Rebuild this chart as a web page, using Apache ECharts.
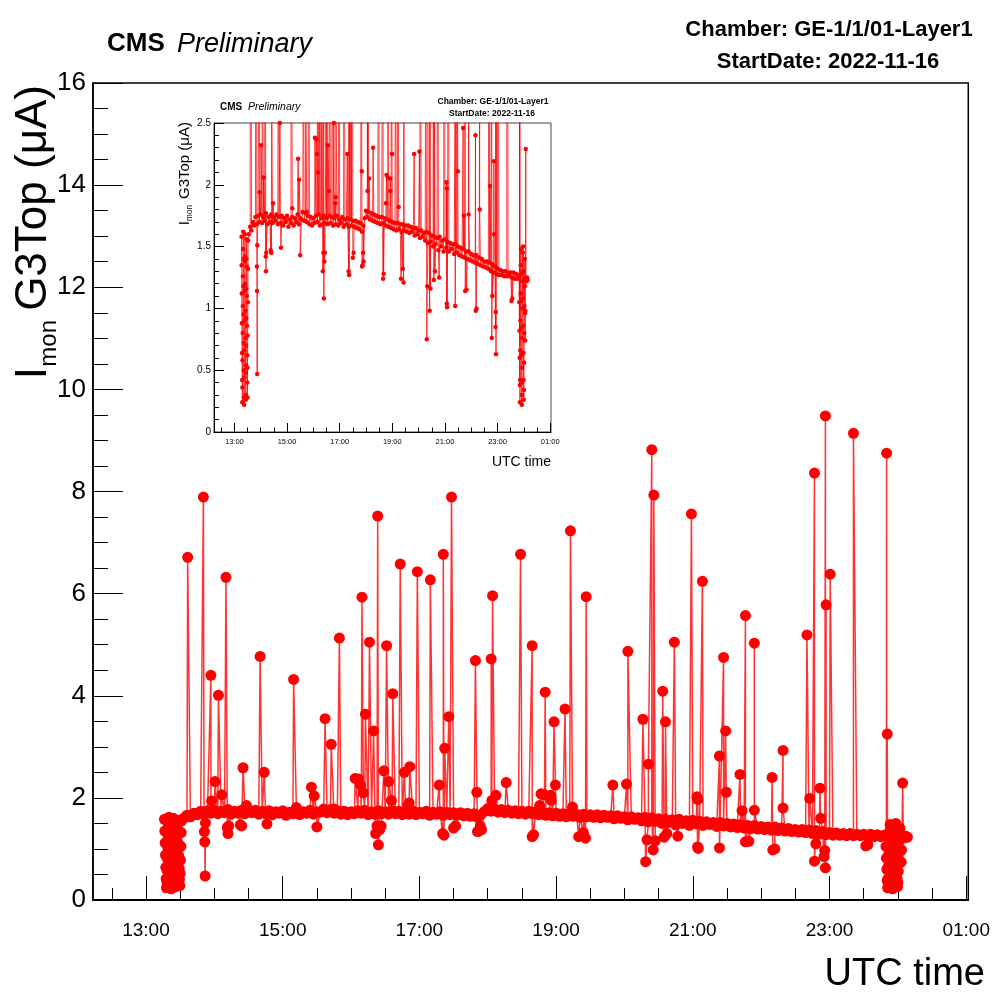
<!DOCTYPE html>
<html>
<head>
<meta charset="utf-8">
<title>Imon G3Top - GE-1/1/01-Layer1</title>
<script src="https://cdn.jsdelivr.net/npm/echarts@6/dist/echarts.min.js"></script>
<style>
  html, body { margin: 0; padding: 0; background: #fff; }
  #chart { width: 993px; height: 1006px; }
</style>
</head>
<body>
<div id="chart"></div>
<script>
// time is in hours of 2022-11-16 (25 = 01:00 of the next day)
var xMin = 12.225, xMax = 25.03;
var majorHours = [13, 15, 17, 19, 21, 23, 25];
var minorHours = [12.5, 13.5, 14, 14.5, 15.5, 16, 16.5, 17.5, 18, 18.5, 19.5, 20, 20.5,
                  21.5, 22, 22.5, 23.5, 24, 24.5];

// ramp-up at switch on, one reading every 0.005 h from 13.27 h
var rampT0 = 13.27, rampDt = 0.005;
var rampI = [1.58, 1.35, 1.12, 0.88, 0.64, 0.42, 0.24, 0.36, 0.58, 0.80,
             1.02, 1.26, 1.48, 1.62, 1.40, 1.18, 0.95, 0.72, 0.50, 0.28,
             0.22, 0.44, 0.66, 0.90, 1.14, 1.38, 1.60, 1.42, 1.20, 0.98,
             0.76, 0.54, 0.30, 0.26, 0.48, 0.70, 0.92, 1.16, 1.40, 1.56,
             1.34, 1.10, 0.86, 0.62, 0.40, 0.28, 0.52, 0.78, 1.05, 1.32, 1.55];

// stable running, one reading every 0.05 h from 13.55 h
var baseT0 = 13.55, baseDt = 0.05;
var baseI = [
  1.60, 1.66, 1.63, 1.70, 1.67, 1.74, 1.68, 1.75, 1.70, 1.76, 1.69, 1.74, 1.71, 1.77, 1.68, 1.74, 1.70, 1.76, 1.69, 1.74,
  1.71, 1.76, 1.68, 1.74, 1.69, 1.75, 1.67, 1.73, 1.70, 1.75, 1.66, 1.72, 1.69, 1.74, 1.67, 1.73, 1.70, 1.76, 1.68, 1.73,
  1.72, 1.78, 1.71, 1.77, 1.70, 1.75, 1.68, 1.74, 1.67, 1.73, 1.69, 1.75, 1.70, 1.76, 1.67, 1.73, 1.68, 1.75, 1.69, 1.73,
  1.68, 1.75, 1.69, 1.74, 1.67, 1.73, 1.68, 1.75, 1.67, 1.72, 1.69, 1.74, 1.66, 1.72, 1.68, 1.73, 1.66, 1.72, 1.67, 1.71,
  1.66, 1.71, 1.65, 1.70, 1.64, 1.69, 1.62, 1.67, 1.73, 1.79, 1.74, 1.78, 1.72, 1.77, 1.71, 1.76, 1.70, 1.75, 1.69, 1.74,
  1.68, 1.74, 1.69, 1.73, 1.67, 1.72, 1.66, 1.71, 1.65, 1.70, 1.64, 1.69, 1.63, 1.69, 1.64, 1.68, 1.62, 1.68, 1.63, 1.67,
  1.62, 1.67, 1.61, 1.66, 1.62, 1.65, 1.59, 1.65, 1.60, 1.63, 1.57, 1.63, 1.58, 1.61, 1.55, 1.62, 1.53, 1.61, 1.54, 1.59,
  1.50, 1.58, 1.52, 1.57, 1.47, 1.58, 1.50, 1.55, 1.46, 1.56, 1.49, 1.54, 1.46, 1.53, 1.48, 1.52, 1.44, 1.52, 1.45, 1.50,
  1.43, 1.49, 1.42, 1.48, 1.41, 1.46, 1.40, 1.46, 1.39, 1.44, 1.38, 1.43, 1.37, 1.43, 1.36, 1.41, 1.35, 1.40, 1.34, 1.38,
  1.33, 1.38, 1.32, 1.37, 1.30, 1.36, 1.29, 1.34, 1.28, 1.32, 1.27, 1.31, 1.27, 1.30, 1.26, 1.30, 1.26, 1.29, 1.26, 1.29,
  1.25, 1.29, 1.24, 1.28, 1.24, 1.27
];

// ramp-down near midnight, one reading every 0.006 h from 23.82 h
var dropT0 = 23.82, dropDt = 0.006;
var dropI = [1.25, 1.05, 0.82, 0.60, 0.38, 0.24, 0.42, 0.66, 0.90, 1.12,
             1.35, 1.48, 1.28, 1.06, 0.84, 0.62, 0.40, 0.22, 0.30, 0.52,
             0.76, 1.00, 1.22, 1.45, 1.30, 1.08, 0.86, 0.64, 0.42, 0.26,
             0.34, 0.56, 0.80, 1.02, 1.24, 1.40, 1.18, 0.96, 0.74, 0.98, 1.22];

var tailT = [24.08, 24.10, 24.12, 24.14];
var tailI = [1.24, 1.22, 1.25, 1.23];

// current spikes
var spikeT = [13.61, 13.84, 13.95, 14.01, 14.06, 14.17, 14.42, 14.67, 14.73, 15.16,
              15.42, 15.46, 15.62, 15.71, 15.83, 16.06, 16.11, 16.16, 16.21, 16.27,
              16.33, 16.39, 16.48, 16.52, 16.55, 16.61, 16.72, 16.78, 16.86, 16.97,
              17.16, 17.29, 17.35, 17.37, 17.43, 17.47, 17.82, 17.84, 18.05, 18.07,
              18.27, 18.48, 18.65, 18.78, 18.84, 18.97, 18.99, 19.13, 19.21, 19.44,
              19.83, 20.03, 20.05, 20.27, 20.35, 20.40, 20.43, 20.56, 20.60, 20.73,
              20.98, 21.14, 21.39, 21.45, 21.48, 21.49, 21.69, 21.77, 21.90, 22.16,
              22.32, 22.67, 22.71, 22.78, 22.86, 22.94, 22.95, 23.01, 23.35, 23.835,
              23.845, 24.07];
var spikeI = [6.71, 7.89, 4.40, 2.32, 4.01, 6.32, 2.59, 4.77, 2.50, 4.32,
              2.21, 2.04, 3.55, 3.05, 5.13, 2.38, 2.37, 5.93, 3.64, 5.05,
              3.31, 7.52, 2.53, 4.98, 2.32, 4.04, 6.58, 2.50, 2.61, 6.43,
              6.27, 2.25, 6.77, 2.97, 3.59, 7.89, 4.69, 2.11, 4.72, 5.96,
              2.30, 6.77, 4.98, 2.08, 4.07, 3.49, 2.25, 3.74, 7.23, 5.94,
              2.25, 2.27, 4.87, 3.54, 2.66, 8.82, 7.93, 4.09, 3.49, 5.05,
              7.56, 6.24, 2.82, 4.75, 3.31, 2.11, 2.46, 5.57, 5.03, 2.40,
              2.93, 5.19, 1.99, 8.36, 2.19, 9.48, 5.78, 6.38, 9.14, 8.75,
              3.25, 2.29];

// small bumps just above the running level
var bumpT = [13.96, 14.11, 14.47, 15.20, 15.75, 16.14, 16.18, 16.59, 16.83, 16.85,
             18.06, 18.12, 18.76, 18.83, 18.92, 18.93, 19.24, 21.06, 21.072, 21.72,
             21.90, 22.32, 22.87, 23.97];
var bumpI = [1.94, 2.06, 1.85, 1.81, 1.78, 2.25, 2.10, 1.95, 1.85, 1.90,
             1.95, 2.05, 1.85, 2.06, 2.05, 1.95, 1.82, 2.02, 1.97, 1.75,
             1.76, 1.80, 1.60, 1.50];

// current dips
var dipT = [13.855, 13.86, 13.865, 13.87, 14.19, 14.20, 14.21, 14.38, 14.40, 14.77,
            15.50, 16.36, 16.38, 16.40, 16.42, 16.44, 17.34, 17.36, 17.50, 17.53,
            17.85, 17.87, 17.89, 17.91, 18.65, 18.67, 19.33, 19.40, 19.43, 20.31,
            20.33, 20.42, 20.45, 20.58, 20.62, 20.78, 21.07, 21.08, 21.39, 21.77,
            21.82, 22.17, 22.20, 22.78, 22.80, 22.92, 22.93, 22.94, 23.53, 23.56];
var dipI = [1.34, 1.14, 0.47, 1.51, 1.42, 1.30, 1.45, 1.47, 1.45, 1.49,
            1.43, 1.30, 1.45, 1.08, 1.38, 1.45, 1.30, 1.27, 1.41, 1.45,
            1.34, 1.35, 1.45, 1.38, 1.24, 1.28, 1.24, 1.32, 1.21, 0.75,
            1.18, 0.98, 1.16, 1.23, 1.30, 1.25, 1.04, 1.01, 1.02, 1.14,
            1.15, 0.98, 1.00, 0.76, 1.10, 0.85, 0.97, 0.63, 1.06, 1.08];

var FONT = '"Liberation Sans", Arial, Helvetica, sans-serif';

function buildPoints() {
    var pts = [];
    var i;
    for (i = 0; i < rampI.length; i++) pts.push([rampT0 + i * rampDt, rampI[i]]);
    for (i = 0; i < baseI.length; i++) pts.push([baseT0 + i * baseDt, baseI[i]]);
    for (i = 0; i < dropI.length; i++) pts.push([dropT0 + i * dropDt, dropI[i]]);
    for (i = 0; i < tailI.length; i++) pts.push([tailT[i], tailI[i]]);
    for (i = 0; i < spikeI.length; i++) pts.push([spikeT[i], spikeI[i]]);
    for (i = 0; i < bumpI.length; i++) pts.push([bumpT[i], bumpI[i]]);
    for (i = 0; i < dipI.length; i++) pts.push([dipT[i], dipI[i]]);
    pts.sort(function (a, b) { return a[0] - b[0]; });
    return pts;
}

function hourLabel(v) {
    var h = Math.round(v) % 24;
    return (h < 10 ? '0' : '') + h + ':00';
}

// x axes: one carries the 2 h ticks and labels, the other the 30 min ticks
function timeAxes(grid, tickLen, fontSize, margin, lineW) {
    return [{
        gridIndex: grid, type: 'value', position: 'bottom', min: xMin, max: xMax,
        axisLine: { show: true, onZero: false, lineStyle: { color: '#000', width: lineW } },
        axisTick: { show: true, inside: true, length: tickLen, customValues: majorHours,
                    lineStyle: { color: '#000', width: 1 } },
        axisLabel: { show: true, customValues: majorHours, formatter: hourLabel,
                     fontFamily: FONT, fontSize: fontSize, color: '#000', margin: margin },
        splitLine: { show: false }
    }, {
        gridIndex: grid, type: 'value', position: 'bottom', min: xMin, max: xMax,
        axisLine: { show: false },
        axisTick: { show: true, inside: true, length: tickLen / 2, customValues: minorHours,
                    lineStyle: { color: '#000', width: 1 } },
        axisLabel: { show: false },
        splitLine: { show: false }
    }];
}

function currentAxis(grid, max, step, minorSplit, tickLen, fontSize, margin, lineW) {
    return {
        gridIndex: grid, type: 'value', min: 0, max: max, interval: step,
        axisLine: { show: true, onZero: false, lineStyle: { color: '#000', width: lineW } },
        axisTick: { show: true, inside: true, length: tickLen, lineStyle: { color: '#000', width: 1 } },
        minorTick: { show: true, splitNumber: minorSplit, length: tickLen / 2,
                     lineStyle: { color: '#000', width: 1 } },
        axisLabel: { fontFamily: FONT, fontSize: fontSize, color: '#000', margin: margin },
        splitLine: { show: false }
    };
}

function txt(x, y, s, size, opt) {
    opt = opt || {};
    return {
        type: 'text', x: x, y: y, rotation: opt.rot || 0, z: 10,
        style: {
            text: s, fill: '#000', fontFamily: FONT, fontSize: size,
            fontWeight: opt.bold ? 'bold' : 'normal', fontStyle: opt.italic ? 'italic' : 'normal',
            align: opt.align || 'left', verticalAlign: opt.va || 'middle'
        }
    };
}

var points = buildPoints();
var R = Math.PI / 2;

var option = {
    animation: false,
    backgroundColor: '#fff',
    grid: [
        { left: 93, top: 83, width: 880, height: 817, show: true,
          borderColor: '#000', borderWidth: 1.5, backgroundColor: 'transparent' },
        { left: 214, top: 123, width: 337, height: 309, show: true,
          borderColor: '#444', borderWidth: 1, backgroundColor: '#fff' }
    ],
    xAxis: timeAxes(0, 24, 19, 21, 2).concat(timeAxes(1, 9, 7.5, 6, 1)),
    yAxis: [
        currentAxis(0, 16, 2, 4, 30, 26, 7, 1.5),
        currentAxis(1, 2.5, 0.5, 5, 10, 10, 3, 1)
    ],
    series: [{
        type: 'line', xAxisIndex: 0, yAxisIndex: 0, data: points,
        symbol: 'circle', symbolSize: 11, showSymbol: true, clip: true, silent: true,
        itemStyle: { color: '#ff0000' },
        lineStyle: { color: 'rgba(255,0,0,0.8)', width: 1.5 }
    }, {
        type: 'line', xAxisIndex: 2, yAxisIndex: 1, data: points,
        symbol: 'circle', symbolSize: 4.5, showSymbol: true, clip: true, silent: true,
        itemStyle: { color: '#ff0000' },
        lineStyle: { color: 'rgba(255,0,0,0.75)', width: 1 }
    }],
    graphic: [
        // main pad
        txt(107, 44, 'CMS', 26, { bold: true }),
        txt(177, 44, 'Preliminary', 27, { italic: true }),
        txt(829, 30, 'Chamber: GE-1/1/01-Layer1', 22, { bold: true, align: 'center' }),
        txt(828, 62, 'StartDate: 2022-11-16', 22, { bold: true, align: 'center' }),
        txt(985, 975, 'UTC time', 38, { align: 'right' }),
        txt(34, 85, 'G3Top (\u03bcA)', 44, { rot: R, align: 'right' }),
        txt(49, 320, 'mon', 24, { rot: R, align: 'right' }),
        txt(34, 367, 'I', 44, { rot: R, align: 'right' }),
        // inset pad
        txt(220, 107, 'CMS', 10, { bold: true }),
        txt(248, 107, 'Preliminary', 10.5, { italic: true }),
        txt(493, 102, 'Chamber: GE-1/1/01-Layer1', 8.5, { bold: true, align: 'center' }),
        txt(492, 114, 'StartDate: 2022-11-16', 8.5, { bold: true, align: 'center' }),
        txt(551, 462, 'UTC time', 14, { align: 'right' }),
        txt(185, 122, 'G3Top (\u03bcA)', 15, { rot: R, align: 'right' }),
        txt(190, 205, 'mon', 8.2, { rot: R, align: 'right' }),
        txt(185, 221, 'I', 15, { rot: R, align: 'right' })
    ]
};

var chart = echarts.init(document.getElementById('chart'), null, { renderer: 'canvas' });
chart.setOption(option);
</script>
</body>
</html>
